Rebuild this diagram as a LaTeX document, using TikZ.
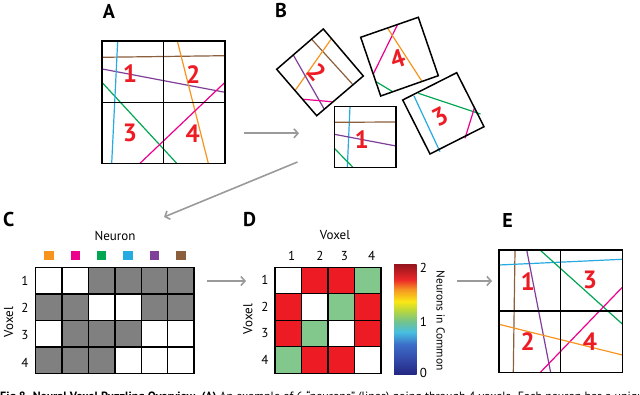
\documentclass[tikz,border=0pt]{standalone}
\usepackage{fontspec}
\setmainfont{PT Sans}
\usepackage{xcolor}
\usepackage{tikz}
\usetikzlibrary{arrows.meta}
\definecolor{neuorange}{HTML}{F7941D}
\definecolor{neumagenta}{HTML}{EC008C}
\definecolor{neugreen}{HTML}{00A651}
\definecolor{neublue}{HTML}{27AAE1}
\definecolor{neupurple}{HTML}{7F3F98}
\definecolor{neubrown}{HTML}{8B5E3C}
\definecolor{numred}{HTML}{ED1C24}
\definecolor{cellred}{HTML}{ED1C24}
\definecolor{cellgreen}{HTML}{82C88C}
\definecolor{cellgray}{HTML}{808080}
\definecolor{arrgray}{HTML}{9A9A9A}
\definecolor{cb0}{RGB}{35,40,130}
\definecolor{cb1}{RGB}{50,70,165}
\definecolor{cb2}{RGB}{60,110,200}
\definecolor{cb3}{RGB}{70,190,225}
\definecolor{cb4}{RGB}{115,195,140}
\definecolor{cb5}{RGB}{185,215,60}
\definecolor{cb6}{RGB}{250,232,20}
\definecolor{cb7}{RGB}{246,150,35}
\definecolor{cb8}{RGB}{236,40,40}
\definecolor{cb9}{RGB}{150,20,30}
% the path box takes the band from 25bp to 75bp
\pgfdeclareverticalshading{commonbar}{100bp}{color(0bp)=(cb0); color(25bp)=(cb0);
  color(31bp)=(cb1); color(38.5bp)=(cb2); color(44bp)=(cb3); color(49bp)=(cb4);
  color(54bp)=(cb5); color(58bp)=(cb6); color(63.5bp)=(cb7); color(68bp)=(cb8);
  color(75bp)=(cb9); color(100bp)=(cb9)}

\begin{document}
\begin{tikzpicture}[
  x=1pt, y=-1pt,
  font=\fontsize{13}{15}\selectfont,
  panel/.style={font=\fontsize{20}{22}\selectfont\bfseries, inner sep=0pt},
  voxnum/.style={font=\fontsize{25}{27}\selectfont\bfseries, text=numred, inner sep=0pt},
  axlab/.style={inner sep=0pt},
  voxbox/.style={draw=black, line width=1.5pt},
  neu/.style={line width=1.2pt},
  cell/.style={draw=black, line width=1.3pt},
  arr/.style={-{Straight Barb[length=4pt,width=9pt]}, line width=1.6pt, arrgray}
]
\useasboundingbox (0,0) rectangle (640,395);

% A: six neurons through four voxels
\node[panel] (labA) at (109,11) {A};
\draw[neu, neubrown]   (102.3,57.3) -- (225,55.7);
\draw[neu, neupurple]  (102.3,69) -- (225,92.3);
\draw[neu, neugreen]   (102.3,82.7) -- (176.7,163.3);
\draw[neu, neublue]    (117.7,41) -- (111.7,163.3);
\draw[neu, neuorange]  (177.3,41) -- (208.3,163.3);
\draw[neu, neumagenta] (225,82.3) -- (140,163.3);
\draw[voxbox] (102,41) rectangle (225,163.3);
\draw[voxbox] (163.3,41) -- (163.3,163.3) (102,102.3) -- (225,102.3);
\node[voxnum] (a1) at (130,74) {1};
\node[voxnum] (a2) at (193.3,75) {2};
\node[voxnum] (a3) at (130,133.3) {3};
\node[voxnum] (a4) at (192.7,133.3) {4};

% B: shuffled voxels
\node[panel] (labB) at (281,11) {B};
\draw[neu, neublue]   (350,106.7) -- (347.3,167.7);
\draw[neu, neubrown]  (334.3,122.3) -- (396,122);
\draw[neu, neupurple] (334.3,134.3) -- (396,146);
\draw[neu, neugreen]  (334.3,148.3) -- (353.3,167.7);
\draw[voxbox] (334.3,106.7) rectangle (396,167.7);
\node[voxnum] (b1) at (361.7,140) {1};
% voxel 2
\draw[neu, neubrown]   (311.7,39.3) -- (352.3,84);
\draw[neu, neuorange]  (331,39.3) -- (295,90.7);
\draw[neu, neupurple]  (293.3,55) -- (324.3,109.3);
\draw[neu, neumagenta] (303.3,99.3) -- (331.7,101.7);
\draw[voxbox] (276.7,69.3) -- (323.3,29) -- (363.3,76) -- (316.7,115.7) -- cycle;
\node[voxnum, rotate=-50] (b2) at (316.7,71.7) {2};
% voxel 4
\draw[neu, neumagenta] (397.7,24.3) -- (373.3,74);
\draw[neu, neuorange]  (387.7,28.3) -- (421.7,81);
\draw[neu, neugreen]   (376,81.7) -- (392.7,91.7);
\draw[voxbox] (360.7,37.3) -- (418.3,17.3) -- (438.3,75.7) -- (380.7,96) -- cycle;
\node[voxnum, rotate=19] (b4) at (397.7,59.3) {4};
% voxel 3
\draw[neu, neublue]    (414,96) -- (440,151.7);
\draw[neu, neugreen]   (418.3,93.3) -- (480.5,114);
\draw[neu, neumagenta] (474.3,108.3) -- (465,138.3);
\draw[voxbox] (402.7,100) -- (456.7,72.7) -- (484,126.7) -- (430,154) -- cycle;
\node[voxnum, rotate=27] (b3) at (440,116.7) {3};

% C: voxel x neuron matrix
\node[panel] (labC) at (8.7,220) {C};
\node (neuronlab) at (115,236) {Neuron};
\foreach \col [count=\c] in {neuorange,neumagenta,neugreen,neublue,neupurple,neubrown}
  \fill[\col] ({35.7+(\c-0.5)*26.4-4.7},251) rectangle ++(9.4,9.4);
\foreach \r/\row in {1/{0,0,1,1,1,1}, 2/{1,1,0,0,1,1}, 3/{0,1,1,1,0,0}, 4/{1,1,1,0,0,0}} {
  \foreach \v [count=\c] in \row {
    \ifnum\v=1 \def\cellc{cellgray}\else \def\cellc{white}\fi
    \path[cell, fill=\cellc] ({35.7+(\c-1)*26.4},{267.7+(\r-1)*26.4}) rectangle ++(26.4,26.4);
  }
}
\draw[cell] (35.7,267.7) rectangle (194.1,373.3);
\foreach \y [count=\r] in {281.3,307.5,335,363.3}
  \node[axlab] (crow\r) at (25,\y) {\r};
\node[axlab, rotate=90] (cvoxel) at (8.7,322) {Voxel};

% D: voxel x voxel shared neurons
\node[panel] (labD) at (249.5,220) {D};
\node (voxellab) at (335,235) {Voxel};
\foreach \r/\row in {1/{0,2,2,1}, 2/{2,0,1,2}, 3/{2,1,0,2}, 4/{1,2,2,0}} {
  \foreach \v [count=\c] in \row {
    \ifcase\v \def\cellc{white}\or \def\cellc{cellgreen}\else \def\cellc{cellred}\fi
    \path[cell, fill=\cellc] ({275+(\c-1)*26.5},{267.3+(\r-1)*26.5}) rectangle ++(26.5,26.5);
  }
}
\draw[cell] (275,267.3) rectangle (381,373.3);
\foreach \x [count=\c] in {291.7,320,344.3,371.7}
  \node[axlab] (dcol\c) at (\x,256) {\c};
\foreach \y [count=\r] in {280,306.7,332.7,360}
  \node[axlab] (drow\r) at (265,\y) {\r};
\node[axlab, rotate=90] (dvoxel) at (248,319) {Voxel};
\shade[shading=commonbar] (394,264.3) rectangle (416.7,374);
\node[axlab] (tick2) at (423.5,268) {2};
\node[axlab] (tick1) at (423.5,321.7) {1};
\node[axlab] (tick0) at (423.5,373.3) {0};
\node[axlab, rotate=-90, font=\fontsize{11.5}{13}\selectfont] (cbarlab) at (440.7,320.8) {Neurons in Common};

% E: reassembled voxels
\node[panel] (labE) at (507.5,220.7) {E};
\draw[neu, neubrown]   (515,250) -- (513.3,372.7);
\draw[neu, neublue]    (499,265) -- (622.3,259.3);
\draw[neu, neupurple]  (526.7,250) -- (550.7,372.7);
\draw[neu, neugreen]   (540,250) -- (622.3,324);
\draw[neu, neumagenta] (622.3,287.3) -- (540,372.7);
\draw[neu, neuorange]  (499,324.3) -- (622.3,355);
\draw[voxbox] (499,250) rectangle (622.3,372.7);
\draw[voxbox] (560.7,250) -- (560.7,372.7) (499,311) -- (622.3,311);
\node[voxnum] (e1) at (527.7,281.7) {1};
\node[voxnum] (e3) at (590,280) {3};
\node[voxnum] (e2) at (527.7,341.7) {2};
\node[voxnum] (e4) at (590,341.7) {4};

% arrows between panels
\coordinate (fromA) at (244,133.3);
\coordinate (toB) at (299,133.3);
\coordinate (fromB) at (297.5,162);
\coordinate (toC) at (164,217);
\coordinate (fromC) at (207,281);
\coordinate (toD) at (246,281);
\coordinate (fromD) at (457,281);
\coordinate (toE) at (492,281);
\draw[arr] (fromA) -- (toB);
\draw[arr] (fromB) -- (toC);
\draw[arr] (fromC) -- (toD);
\draw[arr] (fromD) -- (toE);

% caption, cut by the page edge
\begin{scope}
\clip (0,0) rectangle (640,395);
\node[anchor=north west, inner sep=0pt, font=\fontsize{12}{14}\selectfont] (caption) at (0,390.5)
  {\textbf{Fig 8. Neural Voxel Puzzling Overview. (A)} An example of 6 “neurons” (lines) going through 4 voxels. Each neuron has a unique};
\end{scope}
\end{tikzpicture}
\end{document}
